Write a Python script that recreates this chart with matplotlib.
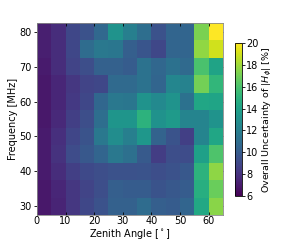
import numpy as np
import matplotlib
matplotlib.use("Agg")
import matplotlib.pyplot as plt

zenith_edges = np.arange(0, 70, 5)          # 0..65
freq_edges = np.arange(27.5, 87.5, 5)       # 27.5..82.5

# rows: frequency 30..80 MHz (bottom to top), columns: zenith 0-5 ... 60-65
uncertainty = np.array([
    [6.9, 7.4, 8.2, 9.0, 9.5, 10.3, 10.3, 10.9, 10.2, 10.0, 10.5, 14.4, 17.5],  # 30
    [6.9, 7.5, 8.2, 8.8, 9.3, 10.2, 10.0, 10.0, 9.6, 9.8, 10.0, 14.8, 16.8],    # 35
    [7.0, 7.8, 8.6, 9.1, 9.3, 9.5, 9.5, 9.6, 9.3, 9.5, 9.8, 15.0, 17.6],        # 40
    [7.0, 8.0, 9.2, 9.8, 10.5, 11.6, 11.1, 9.9, 8.5, 9.3, 9.2, 13.9, 16.1],     # 45
    [7.0, 7.9, 8.9, 9.6, 11.6, 12.8, 12.0, 13.4, 10.4, 9.6, 8.6, 12.3, 14.3],   # 50
    [6.9, 7.6, 8.6, 9.3, 11.0, 13.3, 13.3, 15.0, 13.1, 13.6, 12.3, 12.3, 13.2], # 55
    [6.9, 7.5, 8.3, 9.0, 10.6, 11.6, 11.5, 13.2, 12.6, 13.2, 11.2, 14.3, 14.2], # 60
    [6.9, 7.5, 8.2, 8.8, 9.0, 10.8, 10.8, 11.3, 10.5, 12.4, 12.2, 17.0, 15.2],  # 65
    [7.0, 7.8, 8.8, 9.3, 10.3, 10.3, 10.0, 11.3, 10.6, 11.2, 10.8, 16.0, 14.1], # 70
    [7.2, 7.8, 9.0, 10.9, 11.6, 11.5, 10.2, 9.7, 9.0, 10.5, 10.5, 17.7, 19.0],  # 75
    [7.2, 7.8, 9.0, 9.5, 10.7, 13.2, 12.0, 11.0, 9.5, 10.5, 10.5, 17.2, 20.0],  # 80
])

x_ticks = [0, 10, 20, 30, 40, 50, 60]
y_ticks = [30, 40, 50, 60, 70, 80]
cbar_ticks = [6, 8, 10, 12, 14, 16, 18, 20]

fig = plt.figure(figsize=(3.0, 2.4), dpi=100)
ax = fig.add_axes([0.123, 0.104, 0.620, 0.800])
mesh = ax.pcolormesh(zenith_edges, freq_edges, uncertainty, cmap="viridis",
                     vmin=6, vmax=20, shading="flat")
ax.set_xlim(0, 65)
ax.set_ylim(27.5, 82.5)
ax.set_xticks(x_ticks)
ax.set_yticks(y_ticks)
ax.tick_params(labelsize=7, length=2.5, width=0.6, pad=1.0)
ax.tick_params(axis="x", direction="in", top=True)
ax.tick_params(axis="y", direction="out")
ax.set_xlabel(r"Zenith Angle [$^\circ$]", fontsize=7, labelpad=0.5)
ax.set_ylabel("Frequency [MHz]", fontsize=7, labelpad=1.5)
for s in ax.spines.values():
    s.set_linewidth(0.6)
    s.set_color("#888888")

# inward ticks on the right edge
ax_r = ax.secondary_yaxis("right")
ax_r.set_yticks(y_ticks)
ax_r.tick_params(direction="in", length=2.5, width=0.6, labelright=False)
ax_r.spines["right"].set_visible(False)

cax = fig.add_axes([0.783, 0.183, 0.023, 0.638])
cb = fig.colorbar(mesh, cax=cax, ticks=cbar_ticks)
cb.ax.tick_params(labelsize=7, length=2, width=0.6, pad=1.0)
cb.set_label(r"Overall Uncertainty of $|H_\phi|$ [%]", fontsize=6.8, labelpad=1.5)
cb.outline.set_linewidth(0.6)

fig.savefig("out.png", dpi=100)
